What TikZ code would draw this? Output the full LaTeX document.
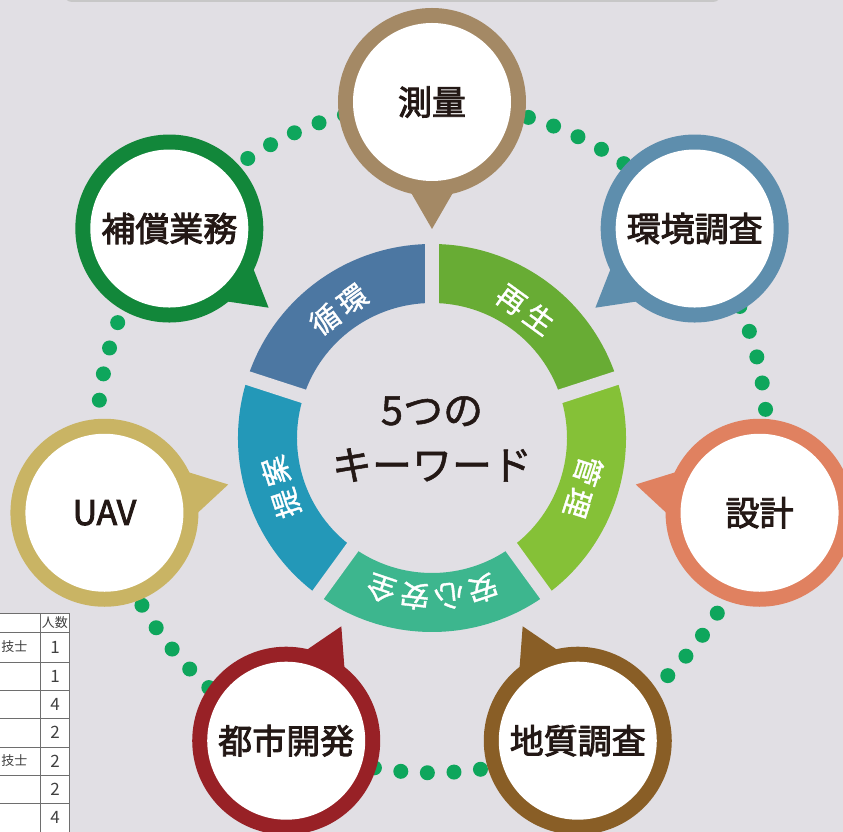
\documentclass[tikz,border=0pt]{standalone}
\usepackage{fontspec}
\setmainfont{Noto Sans CJK JP}
\newfontfamily\jpmid[FakeBold=1.3]{Noto Sans CJK JP}
\newfontfamily\jpseg[FakeBold=1.3,LetterSpace=17]{Noto Sans CJK JP}
\newfontfamily\jpheavy[FakeBold=2.6]{Noto Sans CJK JP}
\usetikzlibrary{calc}
\definecolor{bg}{RGB}{225,223,228}
\definecolor{ink}{RGB}{35,24,21}
\definecolor{dotg}{RGB}{14,166,92}
\definecolor{bA}{RGB}{164,137,101}
\definecolor{bB}{RGB}{94,142,173}
\definecolor{bC}{RGB}{224,129,96}
\definecolor{bD}{RGB}{137,94,38}
\definecolor{bE}{RGB}{152,33,38}
\definecolor{bF}{RGB}{201,180,100}
\definecolor{bG}{RGB}{18,135,58}
\definecolor{sA}{RGB}{104,172,52}
\definecolor{sB}{RGB}{76,119,162}
\definecolor{sC}{RGB}{35,152,184}
\definecolor{sD}{RGB}{61,182,142}
\definecolor{sE}{RGB}{133,193,55}
\definecolor{tabline}{RGB}{110,110,110}
\tikzset{
  balloontext/.style={font=\jpheavy\fontsize{34}{34}\selectfont, text=ink, inner sep=0pt},
  segtext/.style={font=\jpmid\fontsize{29}{29}\selectfont, text=white, inner sep=0pt},
  segword/.style={font=\jpseg\fontsize{29}{29}\selectfont, text=white, inner sep=0pt},
  centertext/.style={font=\jpmid\fontsize{40}{55}\selectfont, text=ink, align=center, inner sep=0pt},
  tabtext/.style={font=\fontsize{17}{17}\selectfont, text=black!75, inner sep=0pt},
  tabsmall/.style={font=\fontsize{13}{13}\selectfont, text=black!75, inner sep=0pt}
}
\begin{document}
\begin{tikzpicture}[x=1pt,y=1pt]
\useasboundingbox (-432,-394) rectangle (411,438);
\clip (-432,-394) rectangle (411,438);
\fill[bg] (-432,-394) rectangle (411,438);

% top box edge
\fill[black!22, rounded corners=8] (-368,436) rectangle (289,470);
\fill[bg!60!white, rounded corners=8] (-367,438) rectangle (288,470);

% dotted circle
\foreach \i in {0,...,78} {
  \fill[dotg] ({0.35+\i*4.556962}:334.8) circle (7.5);
}

% ring segments
\foreach \s/\c in {18/sA, 90/sB, 162/sC, 234/sD, 306/sE} {
  \fill[\c] (\s:194) arc[start angle=\s, end angle=\s+72, radius=194]
     -- ({\s+72}:135) arc[start angle=\s+72, end angle=\s, radius=135] -- cycle;
}
\foreach \s in {18,90,162,234,306} {
  \draw[bg, line width=14pt] (0,0) -- (\s:200);
}

% segment words
\node[segword, rotate=-36] (saisei) at (54:159) {再生};
\node[segword, rotate=36] (junkan) at (126:159) {循環};
\node[segword, rotate=108] (teian) at (198:159) {提案};
\node[segword, rotate=-108] (kanri) at (342:159) {管理};
\foreach \ch [count=\i from 0] in {安,心,安,全} {
  \node[segtext, rotate={270+(1.5-\i)*12.4-90}] (sd\i) at ({270+(1.5-\i)*12.4}:159) {\ch};
}

% centre text
\node[centertext] (center) at (0,-1) {5つの\\キーワード};

% balloons
\foreach \a/\c/\t/\n in {90/bA/測量/b1, 38.571/bB/環境調査/b2, -12.857/bC/設計/b3,
  -64.286/bD/地質調査/b4, -115.714/bE/都市開発/b5, -167.143/bF/UAV/b6, 141.429/bG/補償業務/b7} {
  \fill[\c] (\a:336) circle (94);
  \fill[\c] (\a:209) -- ($(\a:209)+({\a+30}:56)$) -- ($(\a:209)+({\a-30}:56)$) -- cycle;
  \fill[white] (\a:336) circle (79);
  \node[balloontext] (\n) at (\a:336) {\t};
}

% table (image coordinates)
\begin{scope}[shift={(-432,438)}, yscale=-1]
  \fill[white] (-5,613) rectangle (69,840);
  \foreach \y in {613,632,662,690,718,747,775,803} {
    \draw[tabline, line width=0.9pt] (-5,\y) -- (69,\y);
  }
  \draw[tabline, line width=0.9pt] (40.7,613) -- (40.7,840);
  \draw[tabline, line width=0.9pt] (69,613) -- (69,840);
  \node[tabsmall] (hd) at (55,622.5) {人数};
  \foreach \v/\y [count=\k] in {1/647,1/676,4/704,2/732,2/761,2/789,4/817} {
    \node[tabtext] (n\k) at (55,\y) {\v};
  }
  \node[tabsmall, anchor=east] (q1) at (27.5,647) {技士};
  \node[tabsmall, anchor=east] (q5) at (27.5,761) {技士};
\end{scope}
\end{tikzpicture}
\end{document}
